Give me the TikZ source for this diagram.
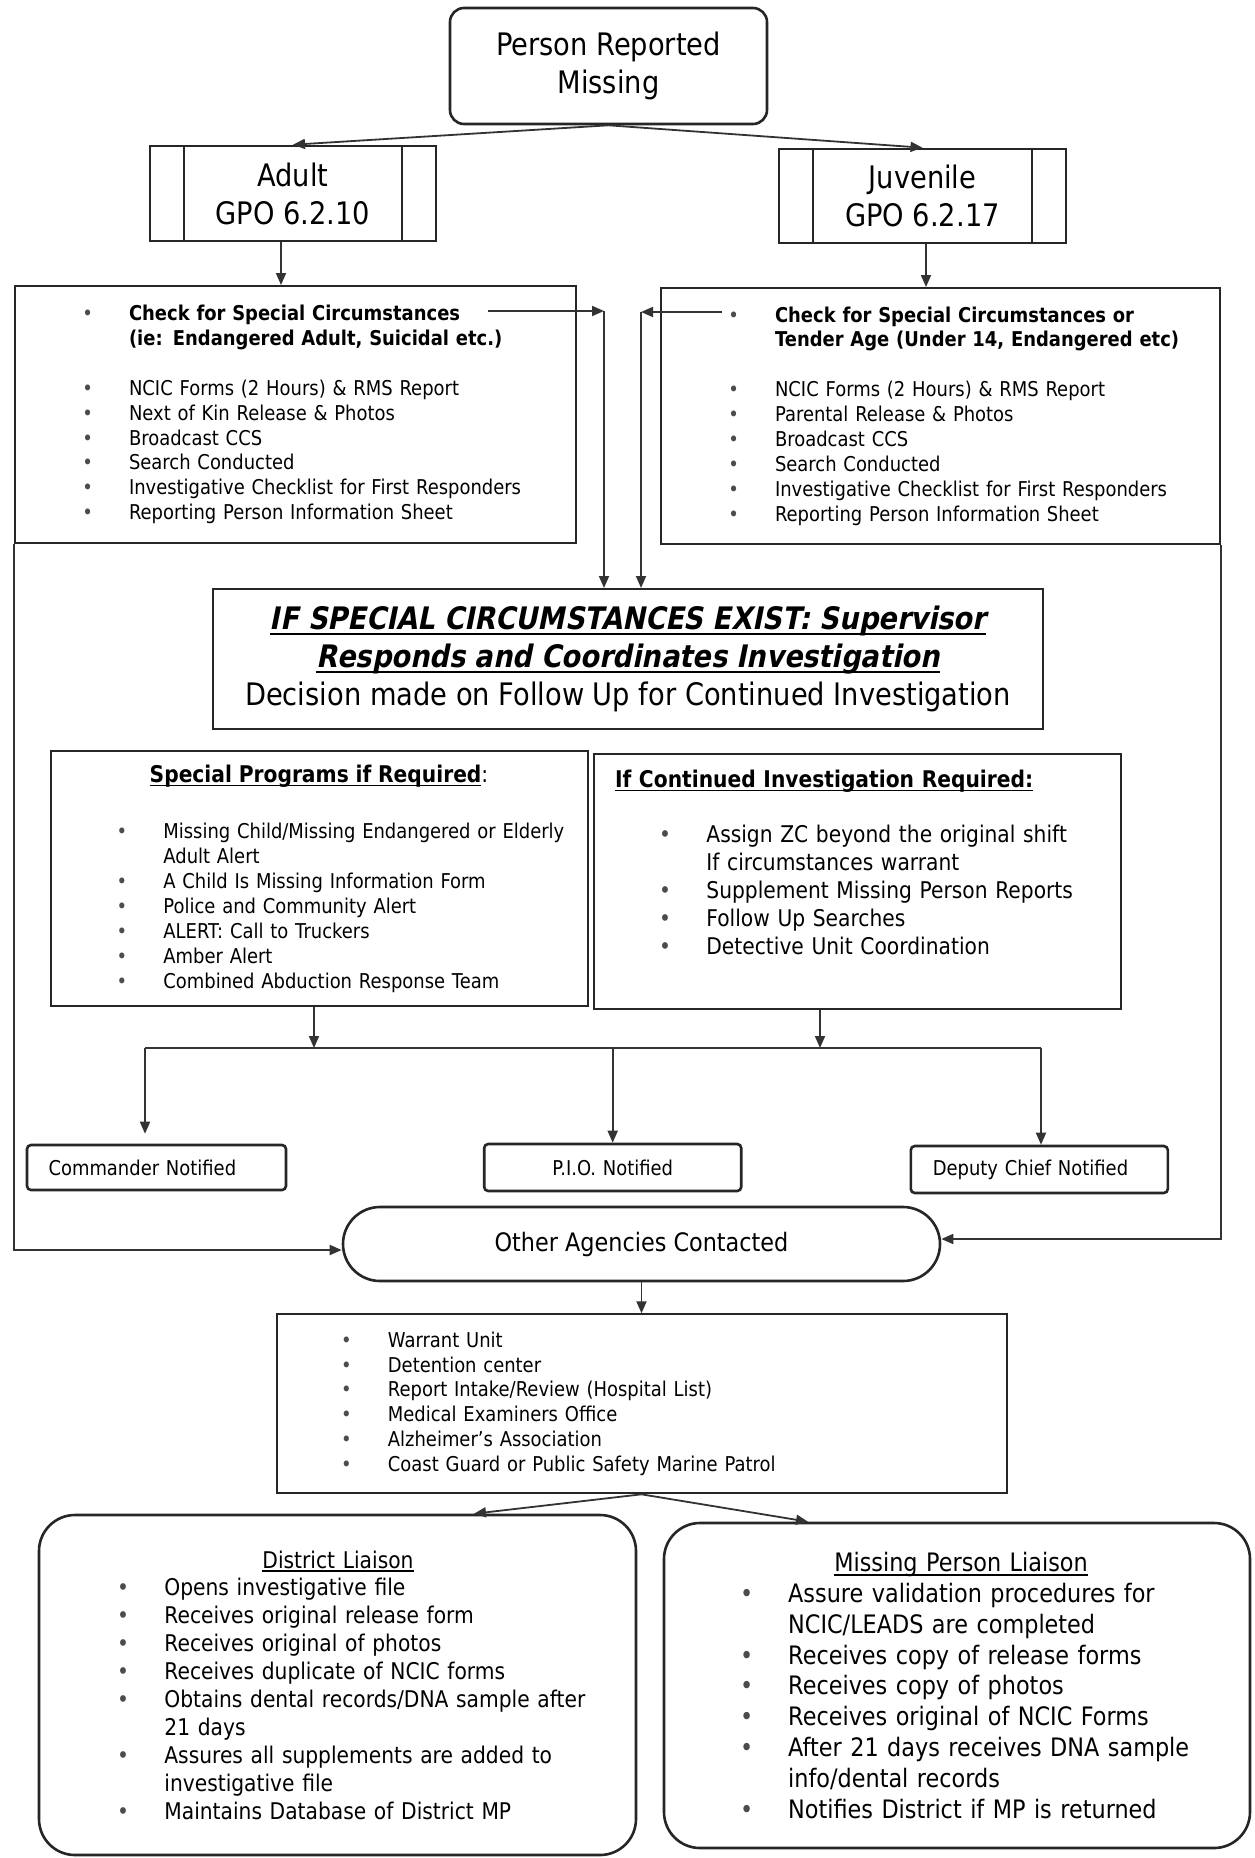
\documentclass[tikz,border=0pt]{standalone}
\usepackage{fontspec}
\setmainfont{DejaVu Sans}[FakeStretch=0.88,
  ItalicFont={DejaVu Sans},ItalicFeatures={FakeSlant=0.2},
  BoldItalicFont={DejaVu Sans Bold},BoldItalicFeatures={FakeSlant=0.2}]
\usetikzlibrary{arrows.meta,positioning}

\newlength\padw
\newlength\bulsep
\setlength\bulsep{20.7pt}
\newcommand\bitem{\hspace*{\padw}\makebox[0pt]{\textcolor{black!70}{\textbullet}}\hspace*{\bulsep}}
\newcommand\bcont{\hspace*{\padw}\hspace*{\bulsep}}
\newsavebox\ulinebox
\newcommand\uln[1]{\sbox\ulinebox{#1}\rlap{\rule[-0.17em]{\wd\ulinebox}{0.065em}}\usebox\ulinebox}

\tikzset{
  sfont/.style={font=\fontsize{10.2}{12.45}\selectfont},
  mfont/.style={font=\fontsize{11.5}{13.95}\selectfont},
  lfont/.style={font=\fontsize{12.7}{15.45}\selectfont},
  xlfont/.style={font=\fontsize{15.5}{19}\selectfont},
  basebox/.style={rectangle,draw=black!85,line width=1pt,inner sep=0pt,align=center},
  startnode/.style={basebox,rounded corners=7pt,line width=1.3pt,xlfont},
  procnode/.style={basebox,line width=1.3pt,xlfont,
    path picture={
      \draw[line width=1.3pt] ([xshift=17pt]path picture bounding box.north west) -- ([xshift=17pt]path picture bounding box.south west);
      \draw[line width=1.3pt] ([xshift=-17pt]path picture bounding box.north east) -- ([xshift=-17pt]path picture bounding box.south east);
    }},
  listnode/.style={basebox,align=left,execute at begin node={\setlength{\padw}{#1}}},
  supnode/.style={basebox,xlfont},
  notenode/.style={basebox,rounded corners=2pt,line width=1.3pt,sfont},
  agencynode/.style={basebox,rounded corners=18.5pt,line width=1.3pt,lfont},
  liaisonnode/.style={listnode=#1,rounded corners=18pt,line width=1.3pt},
  arr/.style={-{Triangle[length=6pt,width=5pt]},line width=0.9pt,color=black!80},
  busline/.style={line width=0.9pt,color=black!80}
}

\begin{document}
\begin{tikzpicture}[x=0.5pt,y=-0.5pt,node distance=15pt and 20pt]
  \path[use as bounding box,fill=white] (0,0) rectangle (1254,1858);

  %% Start and the two GPO branches
  \node[startnode,minimum width=158.5pt,minimum height=58pt] (miss) at (608.5,66)
    {Person Reported\\Missing};
  \node[procnode,minimum width=143pt,minimum height=47.5pt] (adult) at (293,193.5)
    {Adult\\GPO 6.2.10};
  \node[procnode,minimum width=143.5pt,minimum height=47pt] (juv) at (922.5,196)
    {Juvenile\\GPO 6.2.17};
  \draw[arr] (miss.south) -- (adult.north);
  \draw[arr] (miss.south) -- (juv.north);

  %% First responder checklists
  \node[listnode=36.3pt,sfont,text width=280.5pt,minimum height=128.5pt] (chkL) at (295.5,414.5)
    {\bitem\textbf{Check for Special Circumstances}\\
     \bcont\textbf{(ie: Endangered Adult, Suicidal etc.)}\\[12.45pt]
     \bitem NCIC Forms (2 Hours) \& RMS Report\\
     \bitem Next of Kin Release \& Photos\\
     \bitem Broadcast CCS\\
     \bitem Search Conducted\\
     \bitem Investigative Checklist for First Responders\\
     \bitem Reporting Person Information Sheet};
  \node[listnode=36.3pt,sfont,text width=279.5pt,minimum height=128pt] (chkR) at (940.5,416)
    {\bitem\textbf{Check for Special Circumstances or}\\
     \bcont\textbf{Tender Age (Under 14, Endangered etc)}\\[12.45pt]
     \bitem NCIC Forms (2 Hours) \& RMS Report\\
     \bitem Parental Release \& Photos\\
     \bitem Broadcast CCS\\
     \bitem Search Conducted\\
     \bitem Investigative Checklist for First Responders\\
     \bitem Reporting Person Information Sheet};
  \draw[arr] ([xshift=-6pt]adult.south) -- ([xshift=-6pt]adult.south |- chkL.north);
  \draw[arr] ([xshift=1.75pt]juv.south) -- ([xshift=1.75pt]juv.south |- chkR.north);

  %% Supervisor decision
  \node[supnode,minimum width=415pt,minimum height=70pt] (sup) at (628,659)
    {\textbf{\textit{\uln{IF SPECIAL CIRCUMSTANCES EXIST: Supervisor}}}\\
     \textbf{\textit{\uln{Responds and Coordinates Investigation}}}\\
     Decision made on Follow Up for Continued Investigation};
  \coordinate (chkLout) at (488,311);
  \coordinate (jl) at (604,311);
  \coordinate (chkRout) at (722,312);
  \coordinate (jr) at (641,312);
  \draw[arr] (chkLout) -- (jl);
  \draw[arr] (jl) -- (jl |- sup.north);
  \draw[arr] (chkRout) -- (jr);
  \draw[arr] (jr) -- (jr |- sup.north);

  %% Follow up boxes
  \node[listnode=35.5pt,sfont,text width=268.5pt,minimum height=127.5pt] (spec) at (319.5,878.5)
    {\hspace*{134pt}\makebox[0pt]{\fontsize{11.5}{13.95}\selectfont\textbf{\uln{Special Programs if Required}}:}\\[15.8pt]
     \bitem Missing Child/Missing Endangered or Elderly\\
     \bcont Adult Alert\\
     \bitem A Child Is Missing Information Form\\
     \bitem Police and Community Alert\\
     \bitem ALERT: Call to Truckers\\
     \bitem Amber Alert\\
     \bitem Combined Abduction Response Team};
  \node[listnode=35.5pt,mfont,text width=263.5pt,minimum height=127.5pt] (cont) at (857.5,881.5)
    {\hspace*{10.5pt}\textbf{\uln{If Continued Investigation Required:}}\\[13.95pt]
     \bitem Assign ZC beyond the original shift\\
     \bcont If circumstances warrant\\
     \bitem Supplement Missing Person Reports\\
     \bitem Follow Up Searches\\
     \bitem Detective Unit Coordination\\[5.5pt]\mbox{}};

  %% Notifications
  \node[notenode,text width=108pt,inner xsep=10.75pt,minimum height=22.5pt,align=left] (cmd) at (156.5,1167.5)
    {Commander Notified};
  \node[notenode,text width=107pt,inner xsep=10.75pt,minimum height=23.5pt,right=97.8pt of cmd] (pio)
    {P.I.O. Notified};
  \node[notenode,text width=106.5pt,inner xsep=11pt,minimum height=23.5pt,align=left,right=83.5pt of pio,yshift=-1pt] (dep)
    {Deputy Chief Notified};
  \coordinate (busL) at (145,1048);
  \coordinate (busR) at (1041,1048);
  \draw[busline] (busL) -- (busR);
  \draw[arr] ([xshift=-2.75pt]spec.south) -- ([xshift=-2.75pt]spec.south |- busL);
  \draw[arr] ([xshift=-18.75pt]cont.south) -- ([xshift=-18.75pt]cont.south |- busL);
  \draw[arr,shorten >=5pt] (busL) -- (busL |- cmd.north);
  \draw[arr] (pio.north |- busL) -- (pio.north);
  \draw[arr] (busR) -- (busR |- dep.north);

  %% Other agencies
  \node[agencynode,minimum width=298.5pt,minimum height=37pt] (oth) at (641.5,1244)
    {Other Agencies Contacted};
  \coordinate (othinL) at ([yshift=-3pt]oth.west);
  \coordinate (othinR) at ([yshift=2.5pt]oth.east);
  \draw[arr] (chkL.south west) -- (chkL.south west |- othinL) -- (othinL);
  \draw[arr] (chkR.south east) -- (chkR.south east |- othinR) -- (othinR);

  \node[listnode=35pt,sfont,text width=365pt,minimum height=89.5pt,below=15.5pt of oth] (ag)
    {\bitem Warrant Unit\\
     \bitem Detention center\\
     \bitem Report Intake/Review (Hospital List)\\
     \bitem Medical Examiners Office\\
     \bitem Alzheimer’s Association\\
     \bitem Coast Guard or Public Safety Marine Patrol};
  \draw[arr] (oth.south) -- (ag.north);

  %% Liaisons
  \node[liaisonnode=42pt,mfont,text width=298.5pt,minimum height=170pt] (dist) at (337.5,1685)
    {\hspace*{149.5pt}\makebox[0pt]{\uln{District Liaison}}\\
     \bitem Opens investigative file\\
     \bitem Receives original release form\\
     \bitem Receives original of photos\\
     \bitem Receives duplicate of NCIC forms\\
     \bitem Obtains dental records/DNA sample after\\
     \bcont 21 days\\
     \bitem Assures all supplements are added to\\
     \bcont investigative file\\
     \bitem Maintains Database of District MP};
  \node[liaisonnode=41.4pt,lfont,text width=293pt,minimum height=162.5pt] (mpl) at (957,1685.5)
    {\hspace*{148.5pt}\makebox[0pt]{\uln{Missing Person Liaison}}\\
     \bitem Assure validation procedures for\\
     \bcont NCIC/LEADS are completed\\
     \bitem Receives copy of release forms\\
     \bitem Receives copy of photos\\
     \bitem Receives original of NCIC Forms\\
     \bitem After 21 days receives DNA sample\\
     \bcont info/dental records\\
     \bitem Notifies District if MP is returned};
  \draw[arr] (ag.south) -- ([xshift=68.25pt]dist.north);
  \draw[arr] (ag.south) -- ([xshift=-74.5pt]mpl.north);
\end{tikzpicture}
\end{document}
